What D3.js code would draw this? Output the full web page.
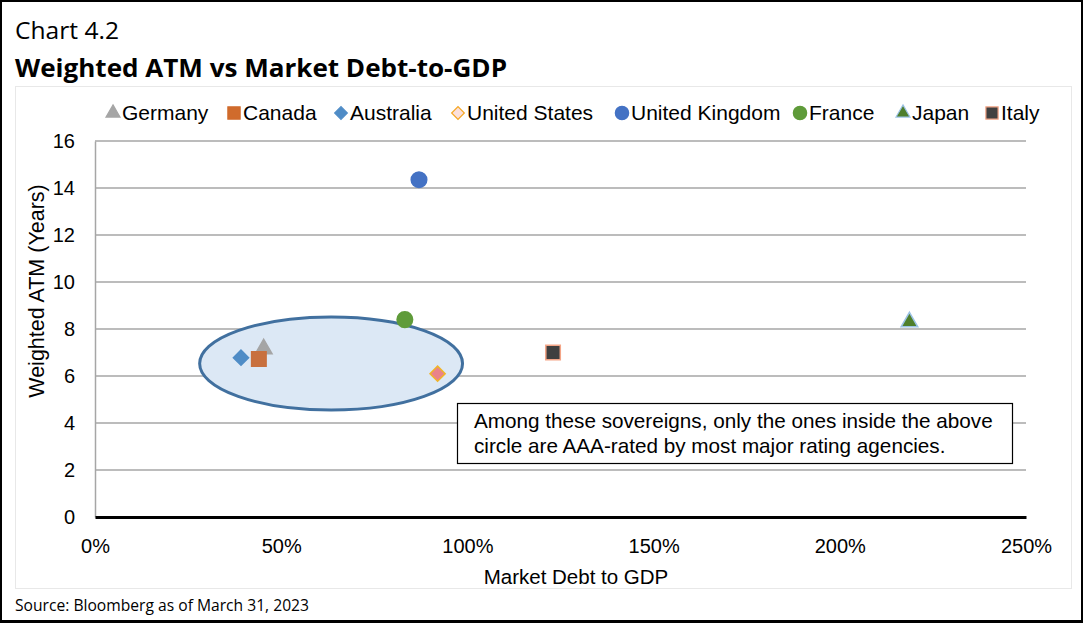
<!DOCTYPE html>
<html>
<head>
<meta charset="utf-8">
<script src="https://cdn.jsdelivr.net/npm/d3@7"></script>
<style>
  html, body { margin: 0; padding: 0; background: #fff; }
  svg { display: block; }
</style>
</head>
<body>
<script>
// Sovereign debt data: market debt as % of GDP and weighted average time to maturity (years)
const countries = ["Germany", "Canada", "Australia", "United States", "United Kingdom", "France", "Japan", "Italy"];
const debtToGdp = [45.3, 44.0, 39.2, 92.0, 87.0, 83.2, 218.7, 123.0];
const weightedAtm = [7.15, 6.72, 6.78, 6.1, 14.35, 8.4, 8.3, 7.0];
const markerShapes = ["triangle", "square", "diamond", "diamond", "circle", "circle", "triangle", "square"];
const fillColors = ["#a5a5a5", "#c8703e", "#4f8cc6", "#e9838a", "#4472c4", "#5f9b3a", "#4f7f2c", "#404040"];
const strokeColors = ["#a5a5a5", "#c8703e", "#4f8cc6", "#f0b429", "#4472c4", "#5f9b3a", "#9dc3e6", "#f4a587"];
const legendFills = ["#a5a5a5", "#d06b2c", "#4f8cc6", "#fbe0dc", "#4472c4", "#5f9b3a", "#4f7f2c", "#404040"];
const legendStrokes = ["#a5a5a5", "#d06b2c", "#4f8cc6", "#f5a623", "#4472c4", "#5f9b3a", "#9dc3e6", "#f4a587"];

const xTicks = [0, 50, 100, 150, 200, 250];
const yTicks = [0, 2, 4, 6, 8, 10, 12, 14, 16];

// AAA-rated group outline: centre and radii in data units
const aaaEllipse = { cx: 63.4, cy: 6.53, rx: 35.3, ry: 1.98 };
const noteLines = [
  "Among these sovereigns, only the ones inside the above",
  "circle are AAA-rated by most major rating agencies."
];

const W = 1083, H = 623;
const svg = d3.select("body").append("svg").attr("width", W).attr("height", H);

// Outer frame
svg.append("rect").attr("x", 1).attr("y", 1).attr("width", W - 2).attr("height", H - 3)
  .attr("fill", "#fff").attr("stroke", "#000").attr("stroke-width", 2);
svg.append("line").attr("x1", 0).attr("x2", W).attr("y1", 621.5).attr("y2", 621.5)
  .attr("stroke", "#000").attr("stroke-width", 3);

// Chart area border
svg.append("rect").attr("x", 15.5).attr("y", 86.5).attr("width", 1056).attr("height", 502)
  .attr("fill", "none").attr("stroke", "#e8e8e8").attr("stroke-width", 1);

// Headings
const headFont = "'Open Sans', 'Noto Sans', sans-serif";
svg.append("text").attr("x", 15).attr("y", 39)
  .attr("font-family", headFont).attr("font-size", 24)
  .attr("textLength", 104).attr("lengthAdjust", "spacingAndGlyphs")
  .attr("fill", "#000").text("Chart 4.2");
svg.append("text").attr("x", 15).attr("y", 77)
  .attr("font-family", headFont).attr("font-size", 25)
  .attr("textLength", 492).attr("lengthAdjust", "spacingAndGlyphs")
  .attr("font-weight", "bold").attr("fill", "#000").text("Weighted ATM vs Market Debt-to-GDP");
svg.append("text").attr("x", 15).attr("y", 611)
  .attr("font-family", headFont).attr("font-size", 15.5)
  .attr("textLength", 294).attr("lengthAdjust", "spacingAndGlyphs")
  .attr("fill", "#000").text("Source: Bloomberg as of March 31, 2023");

const plot = { left: 95, right: 1026, top: 141, bottom: 517 };
const x = d3.scaleLinear().domain([0, 250]).range([plot.left, plot.right]);
const y = d3.scaleLinear().domain([0, 16]).range([plot.bottom, plot.top]);

const font = "'Liberation Sans', Arial, sans-serif";

// Gridlines
svg.append("g").selectAll("line").data(yTicks.filter(d => d > 0)).join("line")
  .attr("x1", plot.left).attr("x2", plot.right)
  .attr("y1", d => y(d)).attr("y2", d => y(d))
  .attr("stroke", "#a6a6a6").attr("stroke-width", 1.5);

// Y axis
const yAxis = svg.append("g").attr("transform", `translate(${plot.left},0)`)
  .call(d3.axisLeft(y).tickValues(yTicks).tickSize(0).tickPadding(20));
yAxis.select(".domain").attr("stroke", "#a6a6a6").attr("stroke-width", 1.5);
yAxis.selectAll("text").attr("font-family", font).attr("font-size", 20).attr("fill", "#000");

// X axis
const xAxis = svg.append("g").attr("transform", `translate(0,${plot.bottom})`)
  .call(d3.axisBottom(x).tickValues(xTicks).tickSize(0).tickPadding(22).tickFormat(d => d + "%"));
xAxis.select(".domain").attr("stroke", "#000").attr("stroke-width", 3);
xAxis.selectAll("text").attr("font-family", font).attr("font-size", 20).attr("fill", "#000");

// Axis titles
svg.append("text").attr("x", 576).attr("y", 584)
  .attr("text-anchor", "middle").attr("font-family", font).attr("font-size", 20.5)
  .text("Market Debt to GDP");
svg.append("text").attr("transform", "translate(44,291) rotate(-90)")
  .attr("text-anchor", "middle").attr("font-family", font).attr("font-size", 21.5)
  .text("Weighted ATM (Years)");

// AAA ellipse
svg.append("ellipse")
  .attr("cx", x(aaaEllipse.cx)).attr("cy", y(aaaEllipse.cy))
  .attr("rx", x(aaaEllipse.rx) - x(0)).attr("ry", y(0) - y(aaaEllipse.ry))
  .attr("fill", "#dce8f5").attr("stroke", "#41709f").attr("stroke-width", 3);

// Marker symbols (diamonds are squares turned 45°)
const symbolFor = {
  triangle: d3.symbolTriangle,
  square: d3.symbolSquare,
  diamond: d3.symbolSquare,
  circle: d3.symbolCircle
};
const sizeFor = { triangle: 120, square: 210, diamond: 115, circle: 190 };
const legendSizeFor = { triangle: 85, square: 150, diamond: 80, circle: 140 };
const turn = s => (s === "diamond" ? " rotate(45)" : "");

const pts = countries.map((c, i) => ({
  name: c, x: debtToGdp[i], y: weightedAtm[i], shape: markerShapes[i],
  fill: fillColors[i], stroke: strokeColors[i]
}));

svg.append("g").selectAll("path").data(pts).join("path")
  .attr("transform", d => `translate(${x(d.x)},${y(d.y)})${turn(d.shape)}`)
  .attr("d", d => d3.symbol(symbolFor[d.shape], sizeFor[d.shape])())
  .attr("fill", d => d.fill).attr("stroke", d => d.stroke).attr("stroke-width", 1.5);

// Note box
const note = svg.append("g");
note.append("rect").attr("x", 457.5).attr("y", 403.5).attr("width", 555).attr("height", 60)
  .attr("fill", "#fff").attr("stroke", "#000").attr("stroke-width", 1.2);
note.selectAll("text").data(noteLines).join("text")
  .attr("x", 474).attr("y", (d, i) => 428 + i * 25)
  .attr("font-family", font).attr("font-size", 20.7).attr("fill", "#000")
  .text(d => d);

// Legend
const legendX = [113, 234, 341, 458, 622, 800, 903, 992];
const legend = svg.append("g");
countries.forEach((c, i) => {
  const s = markerShapes[i];
  legend.append("path")
    .attr("transform", `translate(${legendX[i]},113)${turn(s)}`)
    .attr("d", d3.symbol(symbolFor[s], legendSizeFor[s])())
    .attr("fill", legendFills[i]).attr("stroke", legendStrokes[i]).attr("stroke-width", 1.2);
  legend.append("text").attr("x", legendX[i] + 9).attr("y", 120)
    .attr("font-family", font).attr("font-size", 21).attr("fill", "#000").text(c);
});
</script>
</body>
</html>
